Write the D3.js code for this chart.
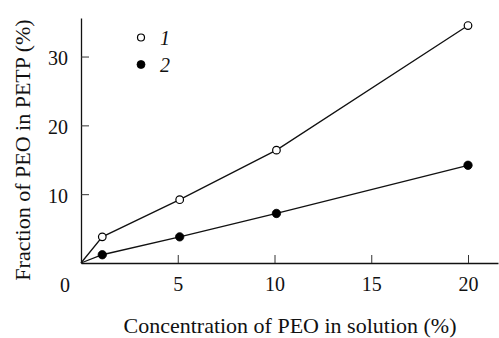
<!DOCTYPE html>
<html>
<head>
<meta charset="utf-8">
<script src="https://cdn.jsdelivr.net/npm/d3@7"></script>
<style>
  body { margin: 0; background: #fff; }
</style>
</head>
<body>
<div class="canvas"></div>
<script>
// data
const concentration = [1.1, 5.1, 10.1, 20];
const series1 = [3.8, 9.2, 16.4, 34.5];
const series2 = [1.2, 3.8, 7.2, 14.2];
const seriesNames = ["1", "2"];
const xTicks = [5, 10, 15, 20];
const yTicks = [10, 20, 30];

const dims = { width: 499, height: 338 };
const plot = { left: 81, right: 498, top: 18, bottom: 263 };
const serif = '"Liberation Serif", "Times New Roman", serif';
const tickFont = 20;
const titleFont = 22;

const svg = d3
    .select(".canvas")
    .append("svg")
    .attr("width", dims.width)
    .attr("height", dims.height);

const x = d3.scaleLinear().domain([0, 21.55]).range([plot.left, plot.right]);
const y = d3.scaleLinear().domain([0, 35.6]).range([plot.bottom, plot.top]);

// axes (ticks point inwards)
const xAxis = d3.axisBottom(x).tickValues(xTicks).tickSizeInner(-8).tickSizeOuter(0).tickPadding(14);
const yAxis = d3.axisLeft(y).tickValues(yTicks).tickSizeInner(-8).tickSizeOuter(0).tickPadding(13);

const gx = svg.append("g")
    .attr("transform", `translate(0,${plot.bottom})`)
    .call(xAxis);
const gy = svg.append("g")
    .attr("transform", `translate(${plot.left},0)`)
    .call(yAxis);

[gx, gy].forEach((g) => {
    g.select(".domain").attr("stroke", "#111").attr("stroke-width", 1.3);
    g.selectAll(".tick line").attr("stroke", "#333").attr("stroke-width", 1);
    g.selectAll(".tick text")
        .attr("fill", "#111")
        .style("font-size", tickFont + "px")
        .style("font-family", serif);
});
gx.selectAll(".tick text").attr("dy", "0.71em");
gy.selectAll(".tick text").attr("dy", "0.4em");

// shared origin label
svg.append("text")
    .attr("x", x(0) - 16)
    .attr("y", 292)
    .attr("text-anchor", "middle")
    .style("font-size", tickFont + "px")
    .style("font-family", serif)
    .attr("fill", "#111")
    .text("0");

// axis titles
svg.append("text")
    .attr("x", 290)
    .attr("y", 333)
    .attr("text-anchor", "middle")
    .style("font-size", titleFont + "px")
    .style("font-family", serif)
    .attr("fill", "#111")
    .text("Concentration of PEO in solution (%)");

svg.append("text")
    .attr("transform", "translate(30,150) rotate(-90)")
    .attr("text-anchor", "middle")
    .style("font-size", titleFont + "px")
    .style("font-family", serif)
    .attr("fill", "#111")
    .text("Fraction of PEO in PETP (%)");

// lines start at the origin
const line = d3.line().x((d) => x(d[0])).y((d) => y(d[1]));
const allSeries = [series1, series2];

allSeries.forEach((vals, i) => {
    const pts = [[0, 0]].concat(concentration.map((c, j) => [c, vals[j]]));
    svg.append("path")
        .datum(pts)
        .attr("d", line)
        .attr("fill", "none")
        .attr("stroke", "#111")
        .attr("stroke-width", 1.3);

    svg.append("g")
        .selectAll("circle")
        .data(concentration.map((c, j) => [c, vals[j]]))
        .enter()
        .append("circle")
        .attr("cx", (d) => x(d[0]))
        .attr("cy", (d) => y(d[1]))
        .attr("r", i === 0 ? 3.8 : 4.2)
        .attr("fill", i === 0 ? "#fff" : "#000")
        .attr("stroke", "#000")
        .attr("stroke-width", i === 0 ? 1.2 : 0.8);
});

// legend
const legendGroup = svg.append("g").attr("transform", "translate(141,37.5)");
const legendItems = legendGroup.selectAll("g")
    .data(seriesNames)
    .enter()
    .append("g")
    .attr("transform", (d, i) => `translate(0,${i * 27})`);

legendItems.append("circle")
    .attr("r", (d, i) => (i === 0 ? 3.5 : 4))
    .attr("fill", (d, i) => (i === 0 ? "#fff" : "#000"))
    .attr("stroke", "#000")
    .attr("stroke-width", (d, i) => (i === 0 ? 1.2 : 0.8));

legendItems.append("text")
    .attr("x", 19)
    .attr("y", 7)
    .style("font-size", "20px")
    .style("font-family", serif)
    .style("font-style", "italic")
    .attr("fill", "#111")
    .text((d) => d);
</script>
</body>
</html>
